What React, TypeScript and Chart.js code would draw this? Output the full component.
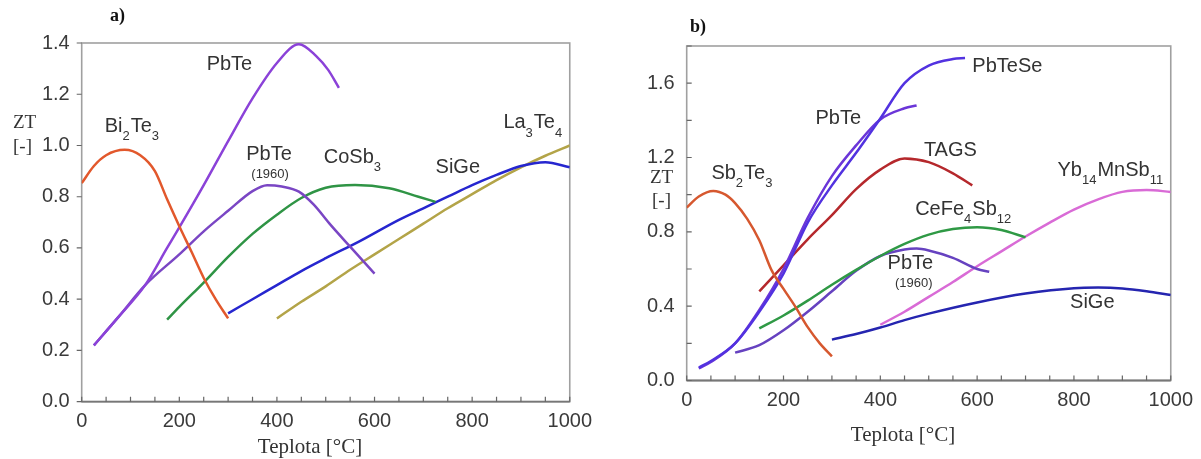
import React, { useEffect, useRef } from "react";
import { Chart, registerables } from "chart.js";

Chart.register(...registerables);

// ---------- Panel a) data ----------
const T_BI2TE3_A = [0, 25, 50, 88, 120, 150, 175, 200, 225, 250, 275, 300];
const ZT_BI2TE3_A = [0.853, 0.92, 0.962, 0.983, 0.962, 0.9, 0.79, 0.685, 0.585, 0.483, 0.398, 0.325];

const T_PBTE_A = [25, 75, 130, 175, 200, 250, 300, 350, 400, 445, 480, 505, 527];
const ZT_PBTE_A = [0.22, 0.33, 0.455, 0.6, 0.68, 0.845, 1.017, 1.184, 1.322, 1.395, 1.35, 1.295, 1.225];

const T_PBTE1960_A = [25, 75, 130, 200, 250, 300, 350, 380, 410, 445, 475, 510, 550, 600];
const ZT_PBTE1960_A = [0.22, 0.33, 0.455, 0.575, 0.665, 0.745, 0.822, 0.845, 0.84, 0.82, 0.77, 0.69, 0.605, 0.5];

const T_COSB3_A = [175, 200, 250, 300, 350, 400, 450, 500, 560, 630, 690, 725];
const ZT_COSB3_A = [0.32, 0.37, 0.465, 0.565, 0.655, 0.73, 0.795, 0.835, 0.846, 0.833, 0.8, 0.78];

const T_SIGE_A = [300, 350, 400, 450, 500, 568, 650, 700, 750, 800, 850, 900, 950, 1000];
const ZT_SIGE_A = [0.345, 0.4, 0.455, 0.51, 0.56, 0.625, 0.71, 0.755, 0.8, 0.845, 0.885, 0.92, 0.935, 0.915];

const T_LA3TE4_A = [400, 450, 500, 550, 600, 650, 700, 750, 800, 850, 900, 950, 1000];
const ZT_LA3TE4_A = [0.325, 0.39, 0.45, 0.515, 0.575, 0.635, 0.695, 0.755, 0.81, 0.865, 0.915, 0.96, 1.0];

// ---------- Panel b) data ----------
const T_SB2TE3_B = [0, 25, 55, 80, 100, 125, 150, 175, 200, 225, 250, 275, 300];
const ZT_SB2TE3_B = [0.93, 0.99, 1.02, 1.0, 0.955, 0.87, 0.755, 0.595, 0.493, 0.395, 0.287, 0.2, 0.13];

const T_PBTE_B = [25, 50, 100, 150, 200, 250, 300, 350, 400, 450, 475];
const ZT_PBTE_B = [0.065, 0.1, 0.2, 0.38, 0.6, 0.875, 1.1, 1.265, 1.405, 1.465, 1.48];

const T_PBTESE_B = [25, 50, 100, 150, 200, 250, 300, 350, 400, 450, 500, 550, 575];
const ZT_PBTESE_B = [0.07, 0.105, 0.2, 0.37, 0.575, 0.85, 1.05, 1.225, 1.41, 1.6, 1.695, 1.73, 1.735];

const T_TAGS_B = [150, 200, 250, 300, 350, 400, 450, 500, 550, 590];
const ZT_TAGS_B = [0.48, 0.62, 0.76, 0.89, 1.03, 1.135, 1.195, 1.175, 1.115, 1.05];

const T_CEFE4SB12_B = [150, 200, 250, 300, 350, 400, 450, 500, 550, 600, 650, 700];
const ZT_CEFE4SB12_B = [0.28, 0.35, 0.43, 0.515, 0.595, 0.67, 0.735, 0.785, 0.815, 0.825, 0.81, 0.77];

const T_PBTE1960_B = [100, 150, 200, 250, 300, 350, 400, 450, 475, 500, 550, 600, 625];
const ZT_PBTE1960_B = [0.15, 0.19, 0.27, 0.37, 0.48, 0.59, 0.67, 0.705, 0.71, 0.7, 0.66, 0.6, 0.585];

const T_YB_B = [400, 450, 500, 550, 600, 650, 700, 750, 800, 850, 900, 950, 1000];
const ZT_YB_B = [0.3, 0.37, 0.45, 0.53, 0.615, 0.695, 0.775, 0.85, 0.92, 0.975, 1.015, 1.025, 1.015];

const T_SIGE_B = [300, 350, 400, 450, 500, 600, 700, 800, 850, 900, 950, 1000];
const ZT_SIGE_B = [0.22, 0.25, 0.285, 0.325, 0.36, 0.42, 0.468, 0.497, 0.5, 0.495, 0.48, 0.46];

// ---------- Tick values ----------
const X_MIN = 0;
const X_MAX = 1000;
const X_LABEL_STEP = 200;
const X_MINOR_STEP = 50;
const Y_MAX_A = 1.4;
const Y_MAX_B = 1.8;
const Y_MINOR_STEP = 0.2;
const Y_LABEL_STEP_A = 0.2;
const Y_LABEL_STEP_B = 0.4;

// ---------- Curve labels (text, anchored in data units) ----------
const LABELS_A = [
  { text: "PbTe", x: 256, y: 1.315 },
  { text: "Bi_2Te_3", x: 47, y: 1.074 },
  { text: "PbTe", x: 337, y: 0.963 },
  { text: "(1960)", x: 386, y: 0.889, small: true },
  { text: "CoSb_3", x: 496, y: 0.952 },
  { text: "SiGe", x: 725, y: 0.914 },
  { text: "La_3Te_4", x: 864, y: 1.088 },
];
const LABELS_B = [
  { text: "PbTeSe", x: 590, y: 1.688 },
  { text: "PbTe", x: 266, y: 1.409 },
  { text: "TAGS", x: 490, y: 1.237 },
  { text: "Sb_2Te_3", x: 51, y: 1.112 },
  { text: "CeFe_4Sb_12", x: 472, y: 0.921 },
  { text: "Yb_14MnSb_11", x: 766, y: 1.13 },
  { text: "PbTe", x: 415, y: 0.629 },
  { text: "(1960)", x: 469, y: 0.522, small: true },
  { text: "SiGe", x: 792, y: 0.421 },
];

const FONT_SANS = "'Liberation Sans', Arial, Helvetica, sans-serif";
const FONT_SERIF = "'Liberation Serif', 'Times New Roman', serif";

function pts(xs: number[], ys: number[]) {
  return xs.map((x, i) => ({ x, y: ys[i] }));
}

function ds(xs: number[], ys: number[], color: string) {
  return {
    data: pts(xs, ys),
    borderColor: color,
    backgroundColor: color,
    borderWidth: 2.5,
    pointRadius: 0,
    fill: false,
    cubicInterpolationMode: "monotone" as const,
  };
}

function drawRich(ctx: CanvasRenderingContext2D, text: string, x: number, y: number, size: number) {
  const parts = text.split(/_(\d+)/);
  let cx = x;
  ctx.textAlign = "left";
  ctx.textBaseline = "middle";
  parts.forEach((p, i) => {
    if (!p) return;
    const sub = i % 2 === 1;
    const fs = sub ? Math.round(size * 0.65) : size;
    ctx.font = `${fs}px ${FONT_SANS}`;
    ctx.fillText(p, cx, sub ? y + size * 0.5 : y);
    cx += ctx.measureText(p).width + (sub ? 1 : 0);
  });
}

const panelPlugin = {
  id: "panel",
  beforeDatasetsDraw(chart: any, _args: any, opts: any) {
    const { ctx, chartArea: a, scales } = chart;
    const xs = scales.x;
    const ys = scales.y;
    ctx.save();
    ctx.strokeStyle = "#a0a0a0";
    ctx.lineWidth = 1.6;
    ctx.strokeRect(a.left, a.top, a.right - a.left, a.bottom - a.top);
    ctx.strokeStyle = "#777";
    ctx.lineWidth = 1.8;
    ctx.beginPath();
    ctx.moveTo(a.left, a.bottom);
    ctx.lineTo(a.right, a.bottom);
    ctx.stroke();
    ctx.strokeStyle = "#666";
    ctx.lineWidth = 1.2;
    ctx.beginPath();
    for (let v = X_MIN; v <= X_MAX + 1e-6; v += X_MINOR_STEP) {
      const px = xs.getPixelForValue(v);
      ctx.moveTo(px, a.bottom);
      ctx.lineTo(px, a.bottom - 5);
    }
    const n = Math.round(ys.max / Y_MINOR_STEP);
    for (let i = 0; i <= n; i++) {
      const py = ys.getPixelForValue(i * Y_MINOR_STEP);
      ctx.moveTo(a.left, py);
      ctx.lineTo(a.left + opts.yTickDir * 5, py);
    }
    ctx.stroke();
    ctx.restore();
  },
  afterDraw(chart: any, _args: any, opts: any) {
    const { ctx, scales } = chart;
    const xs = scales.x;
    const ys = scales.y;
    ctx.save();
    ctx.fillStyle = "#333";
    (opts.labels || []).forEach((l: any) => {
      const px = xs.getPixelForValue(l.x);
      const py = ys.getPixelForValue(l.y);
      if (l.small) {
        ctx.font = `13px ${FONT_SANS}`;
        ctx.textAlign = "center";
        ctx.textBaseline = "middle";
        ctx.fillText(l.text, px, py);
      } else {
        drawRich(ctx, l.text, px, py, 20);
      }
    });
    ctx.fillStyle = "#111";
    ctx.font = `bold 18px ${FONT_SERIF}`;
    ctx.textAlign = "left";
    ctx.textBaseline = "middle";
    ctx.fillText(opts.letter, opts.letterPos[0], opts.letterPos[1]);
    ctx.fillStyle = "#333";
    ctx.font = `19px ${FONT_SERIF}`;
    ctx.fillText("ZT", opts.ztPos[0], opts.ztPos[1]);
    ctx.fillText("[-]", opts.unitPos[0], opts.unitPos[1]);
    ctx.font = `21px ${FONT_SERIF}`;
    ctx.textAlign = "center";
    ctx.fillText("Teplota [\u00B0C]", opts.xTitlePos[0], opts.xTitlePos[1]);
    ctx.restore();
  },
};

function makeConfig(p: any) {
  return {
    type: "line",
    data: { datasets: p.datasets },
    options: {
      animation: false,
      responsive: false,
      devicePixelRatio: 1,
      layout: { padding: { left: 0, top: p.top, right: p.right, bottom: 0 } },
      scales: {
        x: {
          type: "linear",
          min: X_MIN,
          max: X_MAX,
          grid: { display: false, drawTicks: false },
          border: { display: false },
          ticks: {
            stepSize: X_LABEL_STEP,
            autoSkip: false,
            maxRotation: 0,
            padding: 8,
            color: "#3a3a3a",
            font: { family: FONT_SANS, size: 20 },
            callback: (v: number) => String(v),
          },
          afterFit: (s: any) => {
            s.height = p.xHeight;
          },
        },
        y: {
          type: "linear",
          min: 0,
          max: p.yMax,
          grid: { display: false, drawTicks: false },
          border: { display: false },
          ticks: {
            stepSize: Y_MINOR_STEP,
            autoSkip: false,
            padding: 12,
            color: "#3a3a3a",
            font: { family: FONT_SANS, size: 20 },
            callback: (v: number) => {
              const r = v / p.yLabelStep;
              return Math.abs(r - Math.round(r)) < 1e-6 ? v.toFixed(1) : "";
            },
          },
          afterFit: (s: any) => {
            s.width = p.yWidth;
          },
        },
      },
      plugins: {
        legend: { display: false },
        tooltip: { enabled: false },
        panel: {
          labels: p.labels,
          letter: p.letter,
          letterPos: p.letterPos,
          ztPos: p.ztPos,
          unitPos: p.unitPos,
          xTitlePos: p.xTitlePos,
          yTickDir: p.yTickDir,
        },
      },
    },
    plugins: [panelPlugin],
  };
}

const PANEL_A = {
  datasets: [
    ds(T_BI2TE3_A, ZT_BI2TE3_A, "#e2582c"),
    ds(T_PBTE_A, ZT_PBTE_A, "#8b42d8"),
    ds(T_PBTE1960_A, ZT_PBTE1960_A, "#7a46c4"),
    ds(T_COSB3_A, ZT_COSB3_A, "#2f9445"),
    ds(T_SIGE_A, ZT_SIGE_A, "#2626cf"),
    ds(T_LA3TE4_A, ZT_LA3TE4_A, "#b3a448"),
  ],
  labels: LABELS_A,
  yMax: Y_MAX_A,
  yLabelStep: Y_LABEL_STEP_A,
  top: 43,
  right: 28.3,
  xHeight: 57.3,
  yWidth: 81.7,
  letter: "a)",
  letterPos: [110, 16],
  ztPos: [13, 123],
  unitPos: [13, 147],
  xTitlePos: [310, 447],
  yTickDir: -1,
};

const PANEL_B = {
  datasets: [
    ds(T_SB2TE3_B, ZT_SB2TE3_B, "#d6582f"),
    ds(T_PBTESE_B, ZT_PBTESE_B, "#5232e0"),
    ds(T_PBTE_B, ZT_PBTE_B, "#6b36d8"),
    ds(T_TAGS_B, ZT_TAGS_B, "#b5282c"),
    ds(T_CEFE4SB12_B, ZT_CEFE4SB12_B, "#2f9945"),
    ds(T_PBTE1960_B, ZT_PBTE1960_B, "#6642c0"),
    ds(T_YB_B, ZT_YB_B, "#d96bd6"),
    ds(T_SIGE_B, ZT_SIGE_B, "#2525b0"),
  ],
  labels: LABELS_B,
  yMax: Y_MAX_B,
  yLabelStep: Y_LABEL_STEP_B,
  top: 46,
  right: 24.3,
  xHeight: 78.5,
  yWidth: 86.7,
  letter: "b)",
  letterPos: [90, 27],
  ztPos: [50, 178],
  unitPos: [52, 201],
  xTitlePos: [303, 435],
  yTickDir: 1,
};

function Panel({ cfg, left, width }: { cfg: any; left: number; width: number }) {
  const ref = useRef<HTMLCanvasElement | null>(null);
  useEffect(() => {
    if (!ref.current) return;
    const chart = new Chart(ref.current, makeConfig(cfg) as any);
    return () => chart.destroy();
  }, [cfg]);
  return (
    <canvas
      ref={ref}
      width={width}
      height={459}
      style={{ position: "absolute", left, top: 0, width, height: 459 }}
    />
  );
}

export default function App() {
  return (
    <div
      style={{
        position: "fixed",
        left: 0,
        top: 0,
        width: 1201,
        height: 459,
        background: "#fff",
        overflow: "hidden",
      }}
    >
      <Panel cfg={PANEL_A} left={0} width={600} />
      <Panel cfg={PANEL_B} left={600} width={601} />
    </div>
  );
}
